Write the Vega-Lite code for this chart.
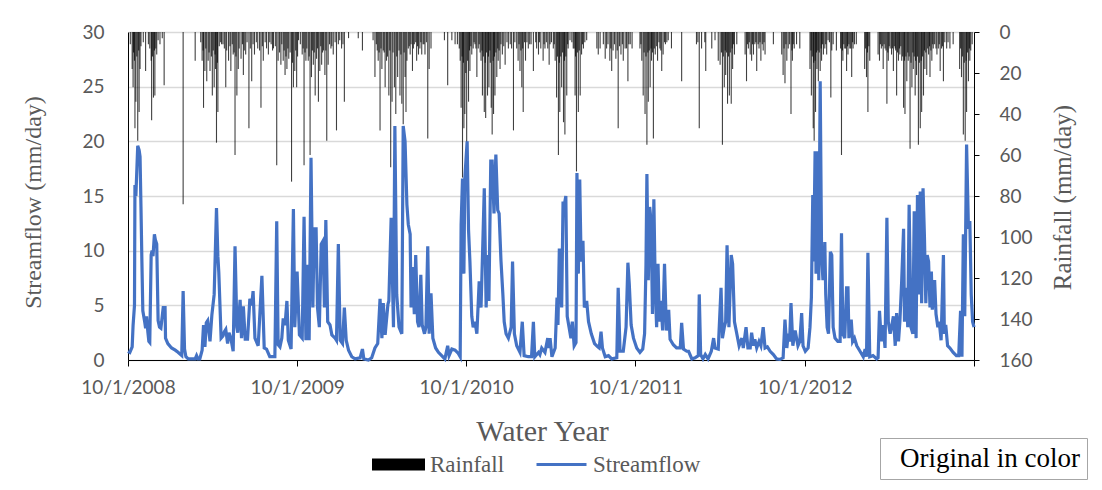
{
  "$schema": "https://vega.github.io/schema/vega-lite/v6.json",
  "autosize": {"type": "none"},
  "width": 846,
  "height": 328,
  "padding": {"left": 128, "top": 32, "right": 128, "bottom": 130},
  "background": "white",
  "config": {
    "view": {"stroke": null},
    "axis": {
      "domainColor": "#000000",
      "domainWidth": 1,
      "tickColor": "#000000",
      "labelColor": "#595959",
      "labelFont": "Lato",
      "labelFontSize": 19,
      "titleFont": "Liberation Serif",
      "titleFontSize": 24,
      "titleFontWeight": "normal",
      "titleColor": "#595959",
      "gridColor": "#d9d9d9",
      "gridWidth": 1.3
    },
    "legend": {
      "labelFont": "Liberation Serif",
      "labelFontSize": 23,
      "labelColor": "#595959"
    }
  },
  "datasets": {
    "rain": [
      {"day":9,"rain":18},{"day":11,"rain":27},{"day":14,"rain":14},{"day":15,"rain":47},{"day":17,"rain":34},{"day":21,"rain":53},{"day":24,"rain":39},{"day":26,"rain":18},{"day":38,"rain":19},{"day":47,"rain":8},{"day":50,"rain":14},{"day":51,"rain":43},{"day":55,"rain":32},{"day":58,"rain":31},{"day":62,"rain":11},{"day":69,"rain":6},{"day":74,"rain":3},{"day":78,"rain":26},{"day":119,"rain":84},{"day":145,"rain":14},{"day":160,"rain":14},{"day":163,"rain":37},{"day":166,"rain":19},{"day":170,"rain":24},{"day":173,"rain":14},{"day":177,"rain":19},{"day":182,"rain":31},{"day":186,"rain":27},{"day":189,"rain":18},{"day":191,"rain":54},{"day":194,"rain":39},{"day":202,"rain":6},{"day":208,"rain":8},{"day":211,"rain":27},{"day":217,"rain":14},{"day":222,"rain":19},{"day":227,"rain":11},{"day":231,"rain":60},{"day":235,"rain":31},{"day":238,"rain":18},{"day":244,"rain":13},{"day":249,"rain":21},{"day":254,"rain":11},{"day":261,"rain":47},{"day":267,"rain":24},{"day":273,"rain":11},{"day":280,"rain":8},{"day":287,"rain":37},{"day":292,"rain":14},{"day":299,"rain":8},{"day":303,"rain":11},{"day":309,"rain":6},{"day":314,"rain":8},{"day":321,"rain":65},{"day":324,"rain":14},{"day":330,"rain":16},{"day":335,"rain":14},{"day":339,"rain":21},{"day":343,"rain":18},{"day":347,"rain":13},{"day":353,"rain":73},{"day":357,"rain":27},{"day":360,"rain":19},{"day":364,"rain":27},{"day":368,"rain":4},{"day":376,"rain":11},{"day":380,"rain":65},{"day":384,"rain":14},{"day":389,"rain":14},{"day":393,"rain":60},{"day":396,"rain":22},{"day":400,"rain":16},{"day":404,"rain":31},{"day":407,"rain":13},{"day":411,"rain":34},{"day":414,"rain":19},{"day":418,"rain":16},{"day":422,"rain":9},{"day":425,"rain":21},{"day":429,"rain":53},{"day":432,"rain":16},{"day":438,"rain":8},{"day":443,"rain":11},{"day":450,"rain":48},{"day":454,"rain":6},{"day":461,"rain":8},{"day":467,"rain":34},{"day":476,"rain":3},{"day":497,"rain":3},{"day":506,"rain":9},{"day":529,"rain":4},{"day":533,"rain":22},{"day":540,"rain":14},{"day":544,"rain":48},{"day":548,"rain":18},{"day":551,"rain":9},{"day":555,"rain":27},{"day":558,"rain":14},{"day":563,"rain":31},{"day":567,"rain":66},{"day":570,"rain":34},{"day":575,"rain":27},{"day":578,"rain":40},{"day":582,"rain":22},{"day":587,"rain":31},{"day":591,"rain":35},{"day":594,"rain":45},{"day":598,"rain":22},{"day":600,"rain":39},{"day":602,"rain":14},{"day":605,"rain":8},{"day":609,"rain":11},{"day":614,"rain":19},{"day":618,"rain":6},{"day":623,"rain":14},{"day":627,"rain":11},{"day":630,"rain":8},{"day":634,"rain":11},{"day":637,"rain":6},{"day":641,"rain":11},{"day":647,"rain":52},{"day":650,"rain":18},{"day":654,"rain":8},{"day":683,"rain":4},{"day":690,"rain":26},{"day":699,"rain":4},{"day":706,"rain":6},{"day":717,"rain":14},{"day":719,"rain":37},{"day":722,"rain":71},{"day":725,"rain":47},{"day":727,"rain":40},{"day":731,"rain":55},{"day":735,"rain":34},{"day":738,"rain":19},{"day":742,"rain":11},{"day":745,"rain":8},{"day":749,"rain":6},{"day":753,"rain":22},{"day":756,"rain":8},{"day":762,"rain":14},{"day":765,"rain":31},{"day":769,"rain":39},{"day":772,"rain":42},{"day":776,"rain":31},{"day":779,"rain":27},{"day":784,"rain":37},{"day":786,"rain":50},{"day":789,"rain":40},{"day":792,"rain":31},{"day":796,"rain":22},{"day":799,"rain":14},{"day":803,"rain":18},{"day":808,"rain":11},{"day":814,"rain":16},{"day":821,"rain":8},{"day":828,"rain":8},{"day":832,"rain":48},{"day":839,"rain":8},{"day":842,"rain":14},{"day":846,"rain":19},{"day":850,"rain":27},{"day":853,"rain":39},{"day":858,"rain":14},{"day":864,"rain":8},{"day":870,"rain":6},{"day":875,"rain":19},{"day":882,"rain":8},{"day":886,"rain":11},{"day":891,"rain":8},{"day":896,"rain":14},{"day":900,"rain":8},{"day":906,"rain":8},{"day":909,"rain":16},{"day":911,"rain":6},{"day":918,"rain":8},{"day":922,"rain":14},{"day":925,"rain":32},{"day":929,"rain":60},{"day":932,"rain":39},{"day":936,"rain":27},{"day":940,"rain":44},{"day":943,"rain":50},{"day":947,"rain":31},{"day":950,"rain":8},{"day":954,"rain":4},{"day":961,"rain":8},{"day":965,"rain":31},{"day":968,"rain":68},{"day":972,"rain":39},{"day":976,"rain":31},{"day":979,"rain":11},{"day":983,"rain":8},{"day":990,"rain":4},{"day":1012,"rain":8},{"day":1015,"rain":11},{"day":1019,"rain":8},{"day":1026,"rain":6},{"day":1030,"rain":13},{"day":1033,"rain":8},{"day":1040,"rain":14},{"day":1044,"rain":19},{"day":1047,"rain":9},{"day":1053,"rain":13},{"day":1058,"rain":47},{"day":1064,"rain":11},{"day":1069,"rain":14},{"day":1073,"rain":8},{"day":1079,"rain":24},{"day":1084,"rain":6},{"day":1088,"rain":8},{"day":1105,"rain":8},{"day":1109,"rain":14},{"day":1112,"rain":31},{"day":1116,"rain":40},{"day":1120,"rain":55},{"day":1123,"rain":34},{"day":1127,"rain":27},{"day":1130,"rain":14},{"day":1134,"rain":52},{"day":1138,"rain":11},{"day":1143,"rain":14},{"day":1148,"rain":8},{"day":1152,"rain":19},{"day":1155,"rain":11},{"day":1160,"rain":6},{"day":1166,"rain":4},{"day":1173,"rain":8},{"day":1195,"rain":24},{"day":1227,"rain":6},{"day":1233,"rain":47},{"day":1238,"rain":8},{"day":1247,"rain":19},{"day":1260,"rain":8},{"day":1267,"rain":4},{"day":1274,"rain":14},{"day":1278,"rain":16},{"day":1283,"rain":55},{"day":1287,"rain":27},{"day":1290,"rain":21},{"day":1294,"rain":35},{"day":1298,"rain":31},{"day":1302,"rain":35},{"day":1305,"rain":18},{"day":1309,"rain":11},{"day":1314,"rain":6},{"day":1332,"rain":11},{"day":1335,"rain":24},{"day":1339,"rain":8},{"day":1343,"rain":11},{"day":1346,"rain":14},{"day":1350,"rain":11},{"day":1353,"rain":6},{"day":1357,"rain":19},{"day":1362,"rain":8},{"day":1366,"rain":14},{"day":1371,"rain":9},{"day":1375,"rain":11},{"day":1393,"rain":6},{"day":1411,"rain":11},{"day":1414,"rain":21},{"day":1418,"rain":25},{"day":1422,"rain":14},{"day":1425,"rain":8},{"day":1431,"rain":40},{"day":1434,"rain":14},{"day":1438,"rain":8},{"day":1443,"rain":6},{"day":1450,"rain":8},{"day":1472,"rain":18},{"day":1475,"rain":31},{"day":1479,"rain":47},{"day":1481,"rain":53},{"day":1484,"rain":39},{"day":1487,"rain":18},{"day":1490,"rain":24},{"day":1494,"rain":19},{"day":1497,"rain":14},{"day":1501,"rain":11},{"day":1504,"rain":8},{"day":1508,"rain":11},{"day":1511,"rain":4},{"day":1517,"rain":32},{"day":1522,"rain":6},{"day":1529,"rain":9},{"day":1540,"rain":60},{"day":1543,"rain":14},{"day":1547,"rain":8},{"day":1551,"rain":19},{"day":1554,"rain":11},{"day":1558,"rain":8},{"day":1562,"rain":22},{"day":1565,"rain":8},{"day":1572,"rain":6},{"day":1590,"rain":18},{"day":1594,"rain":22},{"day":1597,"rain":39},{"day":1601,"rain":14},{"day":1619,"rain":11},{"day":1622,"rain":14},{"day":1626,"rain":8},{"day":1630,"rain":18},{"day":1634,"rain":8},{"day":1638,"rain":35},{"day":1641,"rain":14},{"day":1645,"rain":8},{"day":1648,"rain":11},{"day":1652,"rain":19},{"day":1656,"rain":8},{"day":1659,"rain":31},{"day":1663,"rain":14},{"day":1666,"rain":11},{"day":1670,"rain":14},{"day":1674,"rain":37},{"day":1677,"rain":40},{"day":1681,"rain":24},{"day":1684,"rain":14},{"day":1688,"rain":57},{"day":1692,"rain":27},{"day":1695,"rain":18},{"day":1699,"rain":31},{"day":1702,"rain":21},{"day":1706,"rain":55},{"day":1710,"rain":47},{"day":1713,"rain":39},{"day":1717,"rain":31},{"day":1720,"rain":18},{"day":1724,"rain":21},{"day":1728,"rain":11},{"day":1731,"rain":22},{"day":1735,"rain":14},{"day":1738,"rain":8},{"day":1746,"rain":11},{"day":1749,"rain":8},{"day":1753,"rain":19},{"day":1756,"rain":8},{"day":1760,"rain":24},{"day":1767,"rain":8},{"day":1774,"rain":8},{"day":1781,"rain":6},{"day":1795,"rain":18},{"day":1799,"rain":22},{"day":1803,"rain":50},{"day":1807,"rain":53},{"day":1810,"rain":39},{"day":1814,"rain":24},{"day":1817,"rain":14},
      {"day":5,"rain":6},{"day":12,"rain":10},{"day":19,"rain":12},{"day":23,"rain":9},{"day":28,"rain":7},{"day":33,"rain":5},{"day":44,"rain":6},{"day":53,"rain":12},{"day":57,"rain":9},{"day":60,"rain":8},{"day":65,"rain":4},
      {"day":157,"rain":5},{"day":162,"rain":9},{"day":168,"rain":8},{"day":175,"rain":10},{"day":180,"rain":12},{"day":184,"rain":9},{"day":188,"rain":11},{"day":193,"rain":15},{"day":197,"rain":7},{"day":200,"rain":5},{"day":205,"rain":6},{"day":213,"rain":9},{"day":220,"rain":7},{"day":225,"rain":6},{"day":229,"rain":10},{"day":233,"rain":12},{"day":240,"rain":8},{"day":247,"rain":6},{"day":251,"rain":9},{"day":257,"rain":5},{"day":264,"rain":8},{"day":270,"rain":6},{"day":277,"rain":5},{"day":284,"rain":9},{"day":290,"rain":7},{"day":296,"rain":5},
      {"day":306,"rain":5},{"day":312,"rain":9},{"day":318,"rain":7},{"day":327,"rain":10},{"day":332,"rain":6},{"day":337,"rain":9},{"day":341,"rain":12},{"day":345,"rain":8},{"day":350,"rain":10},{"day":355,"rain":15},{"day":362,"rain":9},{"day":366,"rain":12},{"day":372,"rain":6},{"day":378,"rain":8},{"day":382,"rain":10},{"day":386,"rain":8},{"day":391,"rain":12},{"day":398,"rain":9},{"day":402,"rain":10},{"day":409,"rain":8},{"day":416,"rain":7},{"day":420,"rain":10},{"day":427,"rain":9},{"day":435,"rain":6},{"day":440,"rain":7},{"day":447,"rain":5},{"day":457,"rain":4},{"day":464,"rain":6},
      {"day":536,"rain":6},{"day":538,"rain":9},{"day":542,"rain":10},{"day":546,"rain":8},{"day":553,"rain":10},{"day":560,"rain":12},{"day":565,"rain":9},{"day":572,"rain":10},{"day":580,"rain":12},{"day":585,"rain":9},{"day":589,"rain":11},{"day":596,"rain":10},{"day":607,"rain":7},{"day":611,"rain":6},{"day":616,"rain":8},{"day":621,"rain":5},{"day":625,"rain":7},{"day":632,"rain":5},{"day":639,"rain":6},{"day":644,"rain":5},
      {"day":711,"rain":6},{"day":715,"rain":8},{"day":721,"rain":12},{"day":724,"rain":15},{"day":729,"rain":20},{"day":733,"rain":14},{"day":737,"rain":9},{"day":740,"rain":7},{"day":747,"rain":5},{"day":751,"rain":8},{"day":758,"rain":6},{"day":760,"rain":10},{"day":764,"rain":9},{"day":767,"rain":12},{"day":771,"rain":15},{"day":774,"rain":10},{"day":778,"rain":12},{"day":781,"rain":9},{"day":782,"rain":15},{"day":788,"rain":14},{"day":791,"rain":12},{"day":794,"rain":10},{"day":798,"rain":8},{"day":801,"rain":9},{"day":805,"rain":6},{"day":811,"rain":7},{"day":818,"rain":5},{"day":825,"rain":6},{"day":835,"rain":5},{"day":844,"rain":6},{"day":848,"rain":9},{"day":852,"rain":8},{"day":856,"rain":5},{"day":861,"rain":5},{"day":867,"rain":6},{"day":880,"rain":5},{"day":888,"rain":5},{"day":898,"rain":6},{"day":903,"rain":5},{"day":914,"rain":5},{"day":920,"rain":6},{"day":927,"rain":12},{"day":931,"rain":15},{"day":934,"rain":12},{"day":938,"rain":10},{"day":942,"rain":14},{"day":945,"rain":12},{"day":949,"rain":6},{"day":958,"rain":5},{"day":963,"rain":8},{"day":966,"rain":12},{"day":970,"rain":10},{"day":974,"rain":9},{"day":981,"rain":6},{"day":986,"rain":5},
      {"day":1036,"rain":6},{"day":1042,"rain":8},{"day":1050,"rain":6},{"day":1056,"rain":9},{"day":1061,"rain":7},{"day":1067,"rain":6},{"day":1076,"rain":8},{"day":1081,"rain":6},{"day":1107,"rain":6},{"day":1114,"rain":10},{"day":1118,"rain":12},{"day":1122,"rain":10},{"day":1125,"rain":9},{"day":1129,"rain":8},{"day":1132,"rain":10},{"day":1136,"rain":8},{"day":1141,"rain":7},{"day":1146,"rain":5},{"day":1150,"rain":9},{"day":1158,"rain":5},{"day":1163,"rain":5},
      {"day":1230,"rain":5},{"day":1245,"rain":5},{"day":1281,"rain":10},{"day":1285,"rain":12},{"day":1289,"rain":9},{"day":1292,"rain":10},{"day":1296,"rain":12},{"day":1300,"rain":10},{"day":1304,"rain":8},{"day":1307,"rain":6},{"day":1337,"rain":6},{"day":1341,"rain":5},{"day":1348,"rain":6},{"day":1355,"rain":5},{"day":1360,"rain":6},{"day":1364,"rain":5},{"day":1369,"rain":6},{"day":1373,"rain":5},
      {"day":1416,"rain":8},{"day":1420,"rain":6},{"day":1428,"rain":6},{"day":1433,"rain":9},{"day":1436,"rain":6},{"day":1474,"rain":9},{"day":1477,"rain":12},{"day":1480,"rain":15},{"day":1483,"rain":14},{"day":1486,"rain":10},{"day":1489,"rain":9},{"day":1492,"rain":10},{"day":1496,"rain":8},{"day":1499,"rain":6},{"day":1506,"rain":6},{"day":1514,"rain":5},{"day":1519,"rain":9},{"day":1538,"rain":8},{"day":1542,"rain":9},{"day":1545,"rain":6},{"day":1549,"rain":8},{"day":1553,"rain":7},{"day":1556,"rain":6},{"day":1560,"rain":8},{"day":1564,"rain":5},{"day":1568,"rain":6},
      {"day":1592,"rain":8},{"day":1596,"rain":10},{"day":1599,"rain":7},{"day":1624,"rain":6},{"day":1628,"rain":7},{"day":1632,"rain":6},{"day":1636,"rain":9},{"day":1640,"rain":10},{"day":1643,"rain":7},{"day":1650,"rain":8},{"day":1654,"rain":7},{"day":1657,"rain":9},{"day":1661,"rain":10},{"day":1665,"rain":8},{"day":1668,"rain":7},{"day":1672,"rain":12},{"day":1676,"rain":14},{"day":1679,"rain":12},{"day":1683,"rain":10},{"day":1686,"rain":12},{"day":1690,"rain":15},{"day":1694,"rain":10},{"day":1697,"rain":12},{"day":1700,"rain":14},{"day":1704,"rain":12},{"day":1708,"rain":15},{"day":1712,"rain":14},{"day":1715,"rain":12},{"day":1719,"rain":9},{"day":1722,"rain":10},{"day":1726,"rain":8},{"day":1730,"rain":7},{"day":1733,"rain":9},{"day":1737,"rain":6},{"day":1741,"rain":6},{"day":1744,"rain":8},{"day":1751,"rain":6},{"day":1758,"rain":7},{"day":1763,"rain":5},{"day":1770,"rain":5},
      {"day":1797,"rain":8},{"day":1801,"rain":12},{"day":1805,"rain":15},{"day":1809,"rain":14},{"day":1812,"rain":10},{"day":1816,"rain":8},{"day":1819,"rain":9},{"day":1822,"rain":6}
    ],
    "flow": [
      {"day":0,"flow":0.8},{"day":4,"flow":0.7},{"day":9,"flow":1.2},{"day":11,"flow":3.2},{"day":14,"flow":5},{"day":15,"flow":16},{"day":17,"flow":15},{"day":21,"flow":19.6},{"day":24,"flow":19.2},{"day":26,"flow":18.6},{"day":28,"flow":14},{"day":30,"flow":9},{"day":32,"flow":4.5},{"day":36,"flow":3.5},{"day":38,"flow":2.9},{"day":40,"flow":4},{"day":43,"flow":2.5},{"day":45,"flow":1.7},{"day":47,"flow":1.6},{"day":50,"flow":9.6},{"day":52,"flow":10},{"day":54,"flow":9.5},{"day":57,"flow":11.5},{"day":59,"flow":11},{"day":62,"flow":10.6},{"day":65,"flow":3.6},{"day":68,"flow":3},{"day":71,"flow":2.9},{"day":76,"flow":4.8},{"day":80,"flow":4.8},{"day":81,"flow":2},{"day":86,"flow":1.5},{"day":94,"flow":1.1},{"day":102,"flow":0.9},{"day":108,"flow":0.7},{"day":116,"flow":0.4},{"day":119,"flow":6.3},{"day":122,"flow":1},{"day":125,"flow":0.3},{"day":130,"flow":0.1},{"day":145,"flow":0.1},{"day":148,"flow":0.4},{"day":151,"flow":0.1},{"day":155,"flow":0.1},{"day":160,"flow":0.9},{"day":163,"flow":3.2},{"day":166,"flow":1.2},{"day":169,"flow":3.4},{"day":172,"flow":3.6},{"day":177,"flow":1.7},{"day":181,"flow":4.1},{"day":186,"flow":6},{"day":191,"flow":13.9},{"day":194,"flow":9.5},{"day":196,"flow":8},{"day":201,"flow":2},{"day":205,"flow":2.2},{"day":208,"flow":2.6},{"day":211,"flow":2.8},{"day":215,"flow":1.5},{"day":218,"flow":2.5},{"day":222,"flow":2},{"day":227,"flow":0.8},{"day":231,"flow":10.4},{"day":235,"flow":3},{"day":237,"flow":2.5},{"day":242,"flow":5.5},{"day":245,"flow":2},{"day":249,"flow":4.9},{"day":253,"flow":1.9},{"day":258,"flow":1.9},{"day":263,"flow":5.6},{"day":267,"flow":5},{"day":270,"flow":6.3},{"day":274,"flow":2},{"day":281,"flow":1.3},{"day":289,"flow":7.7},{"day":294,"flow":1.1},{"day":299,"flow":1},{"day":306,"flow":0.3},{"day":317,"flow":0.3},{"day":321,"flow":12.7},{"day":324,"flow":1.4},{"day":328,"flow":1.2},{"day":332,"flow":2},{"day":335,"flow":3.8},{"day":339,"flow":3.2},{"day":343,"flow":5.4},{"day":346,"flow":1.8},{"day":352,"flow":1},{"day":357,"flow":13.8},{"day":360,"flow":3},{"day":365,"flow":8.1},{"day":370,"flow":2.3},{"day":376,"flow":2},{"day":380,"flow":13.1},{"day":384,"flow":1.8},{"day":387,"flow":8.7},{"day":391,"flow":1.8},{"day":395,"flow":18.5},{"day":399,"flow":4.8},{"day":402,"flow":12},{"day":406,"flow":12},{"day":409,"flow":4.8},{"day":413,"flow":3},{"day":417,"flow":10.6},{"day":421,"flow":10.9},{"day":424,"flow":4.8},{"day":427,"flow":12.8},{"day":431,"flow":3.5},{"day":436,"flow":3.2},{"day":440,"flow":2.3},{"day":447,"flow":2},{"day":450,"flow":1.8},{"day":454,"flow":10.6},{"day":458,"flow":1.8},{"day":463,"flow":1.5},{"day":467,"flow":4.8},{"day":471,"flow":1.8},{"day":476,"flow":0.9},{"day":483,"flow":0.3},{"day":490,"flow":0.1},{"day":501,"flow":0.2},{"day":506,"flow":1},{"day":509,"flow":0.1},{"day":519,"flow":0},{"day":526,"flow":0.2},{"day":533,"flow":1.1},{"day":539,"flow":1.5},{"day":544,"flow":5.6},{"day":548,"flow":2},{"day":551,"flow":5.2},{"day":555,"flow":2.3},{"day":561,"flow":5.1},{"day":563,"flow":5.4},{"day":568,"flow":13},{"day":573,"flow":3},{"day":576,"flow":21.4},{"day":580,"flow":6},{"day":585,"flow":3},{"day":591,"flow":2.4},{"day":594,"flow":21.4},{"day":598,"flow":20},{"day":602,"flow":14.2},{"day":605,"flow":12.4},{"day":609,"flow":11.5},{"day":611,"flow":4.8},{"day":614,"flow":8.5},{"day":618,"flow":4.2},{"day":621,"flow":9.6},{"day":625,"flow":3.5},{"day":628,"flow":3},{"day":632,"flow":7.8},{"day":635,"flow":3.2},{"day":640,"flow":2.4},{"day":643,"flow":3},{"day":647,"flow":10.4},{"day":650,"flow":2.4},{"day":654,"flow":6.1},{"day":658,"flow":2},{"day":664,"flow":1.1},{"day":670,"flow":0.7},{"day":677,"flow":0.4},{"day":684,"flow":0.1},{"day":690,"flow":1.3},{"day":693,"flow":0.4},{"day":699,"flow":1},{"day":706,"flow":0.9},{"day":713,"flow":0.6},{"day":717,"flow":0.3},{"day":719,"flow":12.4},{"day":722,"flow":16.6},{"day":725,"flow":7.9},{"day":727,"flow":16.6},{"day":732,"flow":20},{"day":735,"flow":11.9},{"day":738,"flow":9},{"day":742,"flow":4},{"day":745,"flow":3},{"day":749,"flow":3.5},{"day":753,"flow":2.4},{"day":758,"flow":7.2},{"day":762,"flow":4.8},{"day":766,"flow":10.9},{"day":769,"flow":15.7},{"day":773,"flow":4.8},{"day":776,"flow":9.6},{"day":779,"flow":5.4},{"day":783,"flow":18.2},{"day":786,"flow":18.2},{"day":790,"flow":13.4},{"day":794,"flow":18.8},{"day":798,"flow":13.7},{"day":801,"flow":13.4},{"day":805,"flow":9.1},{"day":809,"flow":6.1},{"day":812,"flow":3.5},{"day":816,"flow":2.4},{"day":821,"flow":2},{"day":827,"flow":3},{"day":830,"flow":9},{"day":834,"flow":2.4},{"day":839,"flow":1.3},{"day":846,"flow":0.7},{"day":851,"flow":3.5},{"day":855,"flow":0.4},{"day":864,"flow":0.3},{"day":871,"flow":0.3},{"day":875,"flow":3.5},{"day":878,"flow":0.3},{"day":886,"flow":0.7},{"day":889,"flow":0.5},{"day":893,"flow":1.1},{"day":900,"flow":0.7},{"day":906,"flow":2},{"day":909,"flow":1.1},{"day":911,"flow":2},{"day":915,"flow":0.3},{"day":922,"flow":1.1},{"day":926,"flow":5.7},{"day":928,"flow":3.2},{"day":931,"flow":10.2},{"day":933,"flow":9.5},{"day":936,"flow":4.8},{"day":939,"flow":14.5},{"day":941,"flow":14},{"day":945,"flow":15},{"day":948,"flow":4},{"day":952,"flow":3},{"day":956,"flow":2},{"day":959,"flow":3.5},{"day":963,"flow":1.3},{"day":967,"flow":1.6},{"day":969,"flow":17.1},{"day":972,"flow":7.9},{"day":975,"flow":16.5},{"day":978,"flow":9},{"day":982,"flow":10.9},{"day":985,"flow":4.8},{"day":990,"flow":5.4},{"day":994,"flow":3.5},{"day":1000,"flow":2.4},{"day":1007,"flow":1.5},{"day":1014,"flow":1.2},{"day":1017,"flow":1.1},{"day":1021,"flow":2.6},{"day":1024,"flow":1.1},{"day":1030,"flow":0.3},{"day":1037,"flow":0.4},{"day":1044,"flow":0.1},{"day":1055,"flow":0.2},{"day":1058,"flow":6.6},{"day":1062,"flow":0.8},{"day":1069,"flow":0.8},{"day":1075,"flow":3},{"day":1079,"flow":8.9},{"day":1082,"flow":6.9},{"day":1086,"flow":3.2},{"day":1091,"flow":2},{"day":1098,"flow":1.1},{"day":1105,"flow":0.7},{"day":1111,"flow":1},{"day":1115,"flow":2.4},{"day":1118,"flow":8.7},{"day":1120,"flow":17},{"day":1123,"flow":7.3},{"day":1126,"flow":14},{"day":1129,"flow":12.7},{"day":1132,"flow":4.2},{"day":1135,"flow":14.7},{"day":1138,"flow":6.6},{"day":1141,"flow":3},{"day":1144,"flow":8.8},{"day":1147,"flow":3.5},{"day":1150,"flow":5.4},{"day":1154,"flow":2.7},{"day":1158,"flow":8.8},{"day":1162,"flow":2.7},{"day":1167,"flow":4.6},{"day":1170,"flow":1.9},{"day":1177,"flow":1.4},{"day":1184,"flow":1.1},{"day":1192,"flow":1.1},{"day":1195,"flow":3.4},{"day":1199,"flow":1},{"day":1206,"flow":0.8},{"day":1210,"flow":0.8},{"day":1217,"flow":0.1},{"day":1224,"flow":0.2},{"day":1231,"flow":0.4},{"day":1233,"flow":6},{"day":1236,"flow":0.5},{"day":1241,"flow":0.1},{"day":1246,"flow":0.5},{"day":1252,"flow":0.1},{"day":1259,"flow":0.8},{"day":1264,"flow":2},{"day":1267,"flow":1.1},{"day":1274,"flow":1},{"day":1280,"flow":6.6},{"day":1283,"flow":2},{"day":1287,"flow":3},{"day":1290,"flow":3.5},{"day":1293,"flow":10.5},{"day":1297,"flow":3},{"day":1302,"flow":9.6},{"day":1305,"flow":8.8},{"day":1309,"flow":3.5},{"day":1314,"flow":2.4},{"day":1319,"flow":1.3},{"day":1325,"flow":2},{"day":1328,"flow":1.1},{"day":1334,"flow":3},{"day":1338,"flow":1.1},{"day":1343,"flow":1.1},{"day":1346,"flow":2.5},{"day":1350,"flow":1.3},{"day":1353,"flow":1.9},{"day":1357,"flow":1.1},{"day":1362,"flow":1.7},{"day":1366,"flow":1.3},{"day":1371,"flow":3},{"day":1375,"flow":1.1},{"day":1380,"flow":1.2},{"day":1386,"flow":0.8},{"day":1393,"flow":0.5},{"day":1400,"flow":0.1},{"day":1407,"flow":0.05},{"day":1414,"flow":0.2},{"day":1418,"flow":3.7},{"day":1422,"flow":1.1},{"day":1425,"flow":2.4},{"day":1428,"flow":1.7},{"day":1431,"flow":5.2},{"day":1435,"flow":1.3},{"day":1440,"flow":2.7},{"day":1446,"flow":1.3},{"day":1450,"flow":1.7},{"day":1454,"flow":4.3},{"day":1457,"flow":1.3},{"day":1462,"flow":0.8},{"day":1468,"flow":1.1},{"day":1472,"flow":3},{"day":1475,"flow":5.7},{"day":1478,"flow":15.1},{"day":1480,"flow":9},{"day":1483,"flow":19.1},{"day":1485,"flow":7.9},{"day":1488,"flow":19.1},{"day":1491,"flow":7.3},{"day":1494,"flow":25.5},{"day":1497,"flow":9.6},{"day":1500,"flow":7.3},{"day":1503,"flow":9},{"day":1504,"flow":10.8},{"day":1506,"flow":6},{"day":1509,"flow":3},{"day":1512,"flow":2.4},{"day":1516,"flow":9.9},{"day":1519,"flow":9.6},{"day":1522,"flow":3},{"day":1526,"flow":2},{"day":1532,"flow":1.7},{"day":1537,"flow":1.7},{"day":1540,"flow":11.6},{"day":1543,"flow":2.4},{"day":1547,"flow":2},{"day":1551,"flow":6.6},{"day":1554,"flow":6.6},{"day":1556,"flow":2},{"day":1561,"flow":3.7},{"day":1564,"flow":1.7},{"day":1568,"flow":2},{"day":1573,"flow":1.3},{"day":1580,"flow":0.8},{"day":1587,"flow":0.3},{"day":1591,"flow":1},{"day":1594,"flow":0.3},{"day":1597,"flow":9.8},{"day":1601,"flow":0.3},{"day":1608,"flow":0.4},{"day":1616,"flow":0.1},{"day":1619,"flow":0.2},{"day":1622,"flow":4.5},{"day":1626,"flow":1.7},{"day":1630,"flow":3.2},{"day":1634,"flow":1.1},{"day":1638,"flow":13},{"day":1641,"flow":3.5},{"day":1645,"flow":2.4},{"day":1648,"flow":3},{"day":1652,"flow":4},{"day":1656,"flow":1.3},{"day":1659,"flow":4.3},{"day":1663,"flow":1.7},{"day":1666,"flow":3.5},{"day":1670,"flow":7.3},{"day":1674,"flow":12},{"day":1676,"flow":3.5},{"day":1680,"flow":6.6},{"day":1683,"flow":3},{"day":1686,"flow":14.2},{"day":1690,"flow":3},{"day":1694,"flow":2.4},{"day":1697,"flow":13.6},{"day":1701,"flow":2},{"day":1704,"flow":15.1},{"day":1707,"flow":6},{"day":1710,"flow":15.4},{"day":1713,"flow":5.2},{"day":1716,"flow":15.7},{"day":1719,"flow":11.3},{"day":1722,"flow":5.2},{"day":1725,"flow":9.6},{"day":1728,"flow":9},{"day":1731,"flow":4.8},{"day":1734,"flow":8.1},{"day":1736,"flow":4.6},{"day":1741,"flow":7.3},{"day":1744,"flow":4.2},{"day":1748,"flow":3},{"day":1751,"flow":3.5},{"day":1755,"flow":1.8},{"day":1760,"flow":9.6},{"day":1762,"flow":2.4},{"day":1765,"flow":3.2},{"day":1769,"flow":1.3},{"day":1774,"flow":1.1},{"day":1781,"flow":0.7},{"day":1788,"flow":0.4},{"day":1793,"flow":0.4},{"day":1797,"flow":4.5},{"day":1800,"flow":0.3},{"day":1803,"flow":11.5},{"day":1806,"flow":4},{"day":1810,"flow":19.7},{"day":1814,"flow":12},{"day":1817,"flow":12.7},{"day":1820,"flow":6},{"day":1823,"flow":3.5},{"day":1826,"flow":3}
    ],
    "note": [{"label": "Original in color"}]
  },
  "layer": [
    {
      "data": {"name": "rain"},
      "mark": {"type": "bar", "width": 1.1, "fillOpacity": 0.75},
      "encoding": {
        "x": {
          "field": "day", "type": "quantitative",
          "scale": {"domain": [0, 1826], "nice": false, "zero": false, "padding": 0},
          "axis": {
            "values": [0, 365, 730, 1095, 1461, 1826],
            "labelExpr": "datum.value == 0 ? '10/1/2008' : datum.value == 365 ? '10/1/2009' : datum.value == 730 ? '10/1/2010' : datum.value == 1095 ? '10/1/2011' : datum.value == 1461 ? '10/1/2012' : ''",
            "title": "Water Year",
            "titleFontSize": 30,
            "titleX": 414,
            "titleY": 71,
            "titleAlign": "center",
            "titleBaseline": "middle",
            "grid": false,
            "ticks": true,
            "tickSize": 6,
            "labelPadding": 12,
            "labelFlush": false,
            "labelOverlap": false
          }
        },
        "y": {
          "field": "rain", "type": "quantitative",
          "scale": {"domain": [0, 160], "reverse": true, "nice": false, "padding": 0},
          "axis": {
            "orient": "right",
            "values": [0, 20, 40, 60, 80, 100, 120, 140, 160],
            "title": "Rainfall (mm/day)",
            "titleAngle": 270,
            "titleX": 88,
            "titleY": 165,
            "titleFontSize": 25,
            "titleAlign": "center",
            "titleBaseline": "middle",
            "grid": false,
            "ticks": true,
            "tickSize": 5,
            "labelPadding": 20
          }
        },
        "y2": {"datum": 0},
        "fill": {
          "datum": "Rainfall",
          "scale": {"domain": ["Rainfall"], "range": ["#000000"]},
          "legend": {
            "title": null,
            "orient": "none",
            "legendX": 244,
            "legendY": 406,
            "padding": 0,
            "symbolType": "M-1,-0.23H1V0.23H-1Z",
            "symbolSize": 2809,
            "symbolStrokeWidth": 0,
            "symbolOpacity": 1,
            "labelOffset": 5
          }
        }
      }
    },
    {
      "data": {"name": "flow"},
      "mark": {"type": "line", "strokeWidth": 3.2, "interpolate": "linear"},
      "encoding": {
        "x": {"field": "day", "type": "quantitative"},
        "y": {
          "field": "flow", "type": "quantitative",
          "scale": {"domain": [0, 30], "nice": false},
          "axis": {
            "orient": "left",
            "values": [0, 5, 10, 15, 20, 25, 30],
            "title": "Streamflow (mm/day)",
            "titleAngle": 270,
            "titleX": -95,
            "titleY": 170,
            "titleAlign": "center",
            "titleBaseline": "middle",
            "grid": true,
            "ticks": false,
            "tickSize": 0,
            "labelPadding": 24
          }
        },
        "color": {
          "datum": "Streamflow",
          "scale": {"domain": ["Streamflow"], "range": ["#4472C4"]},
          "legend": {
            "title": null,
            "orient": "none",
            "legendX": 407,
            "legendY": 406,
            "padding": 0,
            "symbolType": "stroke",
            "symbolSize": 2500,
            "symbolStrokeWidth": 3,
            "labelOffset": 5
          }
        }
      }
    },
    {
      "data": {"name": "note"},
      "mark": {"type": "point", "opacity": 0},
      "encoding": {
        "shape": {
          "field": "label", "type": "nominal",
          "legend": {
            "title": null,
            "orient": "none",
            "legendX": 752,
            "legendY": 406,
            "padding": 7,
            "strokeColor": "#a6a6a6",
            "symbolSize": 0,
            "symbolOpacity": 0,
            "labelOffset": -14,
            "labelLimit": 0,
            "labelColor": "#000000",
            "labelFontSize": 27
          }
        }
      }
    }
  ],
  "resolve": {"scale": {"y": "independent"}}
}
